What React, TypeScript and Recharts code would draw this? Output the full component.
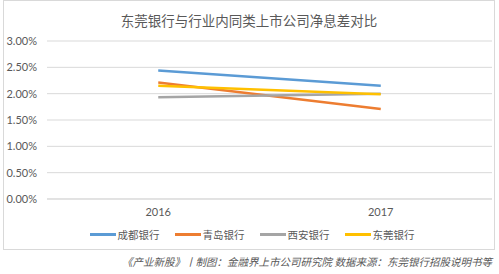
import { CartesianGrid, Legend, Line, LineChart, XAxis, YAxis } from "recharts";

const years = ["2016", "2017"];
const chengdu = [2.44, 2.15];
const qingdao = [2.21, 1.71];
const xian = [1.93, 2.0];
const dongguan = [2.15, 1.99];
const yTicks = [0, 0.5, 1, 1.5, 2, 2.5, 3];

const seriesNames = ["成都银行", "青岛银行", "西安银行", "东莞银行"];
const seriesColors = ["#5B9BD5", "#ED7D31", "#A5A5A5", "#FFC000"];
const seriesKeys = ["chengdu", "qingdao", "xian", "dongguan"];

const data = years.map((year, i) => ({
  year,
  chengdu: chengdu[i],
  qingdao: qingdao[i],
  xian: xian[i],
  dongguan: dongguan[i],
}));

const font = "Lato, 'Noto Sans CJK SC', sans-serif";

function LegendRow() {
  return (
    <div
      style={{
        display: "flex",
        justifyContent: "center",
        gap: 15,
        fontFamily: font,
        fontSize: 10.5,
        color: "#595959",
        marginTop: 8,
        paddingLeft: 8,
      }}
    >
      {seriesNames.map((name, i) => (
        <div key={name} style={{ display: "flex", alignItems: "center" }}>
          <span style={{ display: "inline-block", width: 26, height: 3, background: seriesColors[i], marginRight: 2 }} />
          {name}
        </div>
      ))}
    </div>
  );
}

export default function App() {
  return (
    <div style={{ position: "absolute", left: 0, top: 0, width: 499, height: 274, background: "#fff" }}>
      <div
        style={{
          position: "absolute",
          left: 3,
          top: 0,
          width: 490,
          height: 248,
          border: "1px solid #d9d9d9",
        }}
      >
        <div
          style={{
            position: "absolute",
            top: 9,
            width: "100%",
            textAlign: "center",
            fontFamily: font,
            fontSize: 13.5,
            color: "#595959",
          }}
        >
          东莞银行与行业内同类上市公司净息差对比
        </div>
        <LineChart width={490} height={248} data={data} margin={{ top: 40, right: 2, left: 0, bottom: 4 }}>
          <CartesianGrid vertical={false} stroke="#d9d9d9" />
          <XAxis
            dataKey="year"
            scale="band"
            tickLine={false}
            axisLine={{ stroke: "#d9d9d9" }}
            tick={{ fontSize: 11, fill: "#595959", fontFamily: font }}
            tickMargin={3}
            height={20}
          />
          <YAxis
            domain={[0, 3]}
            ticks={yTicks}
            tickFormatter={(v) => `${v.toFixed(2)}%`}
            axisLine={false}
            tickLine={false}
            tickSize={0}
            tickMargin={10}
            width={43}
            tick={{ fontSize: 11, fill: "#595959", fontFamily: font }}
          />
          <Legend verticalAlign="bottom" height={26} content={() => <LegendRow />} />
          {seriesKeys.map((key, i) => (
            <Line
              key={key}
              dataKey={key}
              name={seriesNames[i]}
              stroke={seriesColors[i]}
              strokeWidth={2.5}
              dot={false}
              isAnimationActive={false}
            />
          ))}
        </LineChart>
      </div>
      <div
        style={{
          position: "absolute",
          right: 7,
          top: 254,
          fontFamily: font,
          fontSize: 10.5,
          fontStyle: "italic",
          color: "#595959",
        }}
      >
        《产业新股》丨制图：金融界上市公司研究院 数据来源：东莞银行招股说明书等
      </div>
    </div>
  );
}
